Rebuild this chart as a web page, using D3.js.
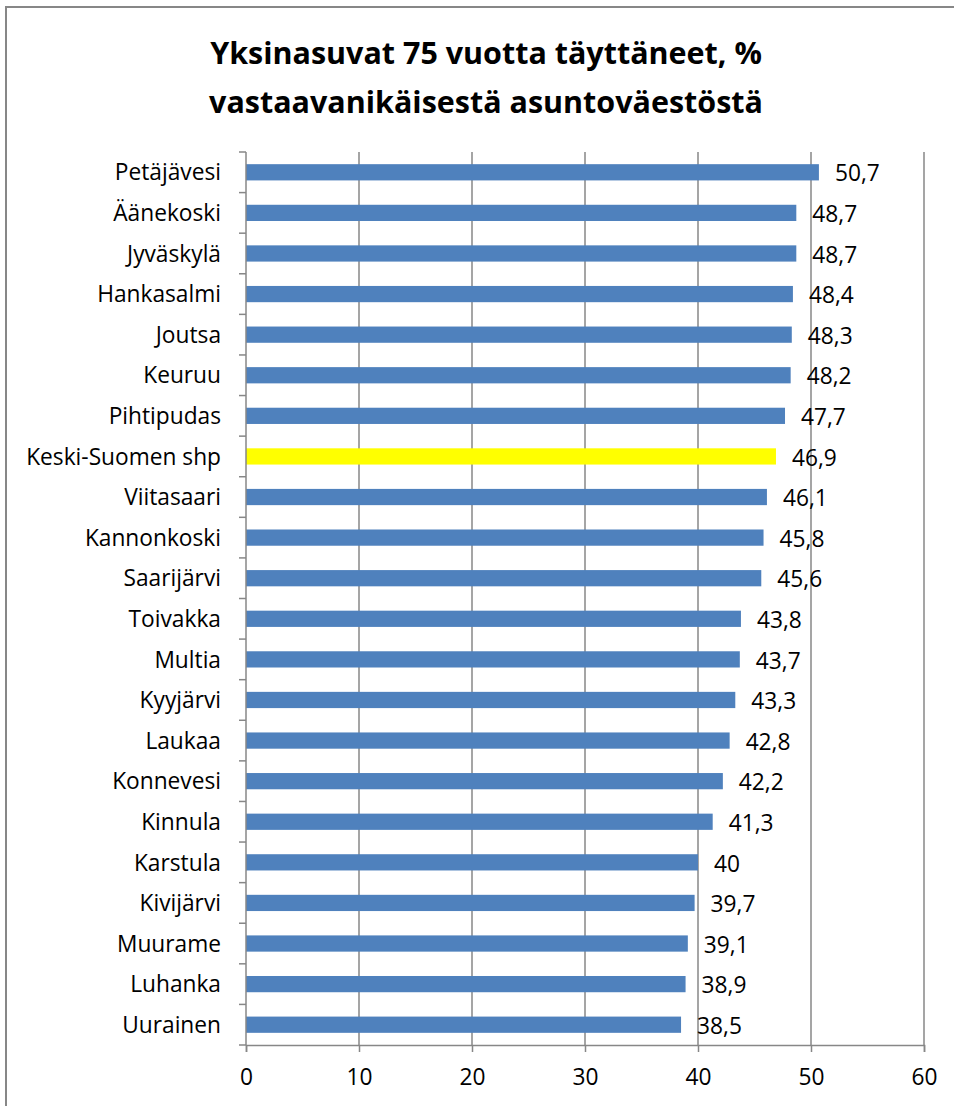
<!DOCTYPE html>
<html><head><meta charset="utf-8">
<script src="https://cdn.jsdelivr.net/npm/d3@7"></script>
<style>
html,body{margin:0;padding:0;background:#fff;}
svg{display:block;font-family:"Open Sans",Lato,sans-serif;}
</style></head>
<body>
<svg id="chart" width="954" height="1106"></svg>
<script>
const categories = ["Petäjävesi","Äänekoski","Jyväskylä","Hankasalmi","Joutsa","Keuruu","Pihtipudas","Keski-Suomen shp","Viitasaari","Kannonkoski","Saarijärvi","Toivakka","Multia","Kyyjärvi","Laukaa","Konnevesi","Kinnula","Karstula","Kivijärvi","Muurame","Luhanka","Uurainen"];
const values = [50.7,48.7,48.7,48.4,48.3,48.2,47.7,46.9,46.1,45.8,45.6,43.8,43.7,43.3,42.8,42.2,41.3,40,39.7,39.1,38.9,38.5];
const highlight = ["Keski-Suomen shp"];
const xTicks = [0,10,20,30,40,50,60];
const titleLines = ["Yksinasuvat 75 vuotta täyttäneet, %","vastaavanikäisestä asuntoväestöstä"];

const svg = d3.select("#chart");
const gridColor = "#878787";

// measure helper to pick font size matching the reference text widths
function fitSize(text, target, weight) {
  const t = svg.append("text").attr("font-size",20).attr("font-weight",weight||"normal").text(text);
  const w = t.node().getComputedTextLength();
  t.remove();
  return 20 * target / w;
}
const labelSize = fitSize("Keski-Suomen shp", 195);
const titleSize = fitSize(titleLines[0], 552, "bold");

// chart border
svg.append("rect").attr("x",6).attr("y",7).attr("width",960).attr("height",1110)
  .attr("fill","none").attr("stroke",gridColor).attr("stroke-width",2);

const x = d3.scaleLinear().domain([0,60]).range([246,924]);
const y = d3.scaleBand().domain(categories).range([152,1045]).paddingInner(0.6).paddingOuter(0.3);

// title
svg.append("text").attr("x",486).attr("y",64).attr("text-anchor","middle")
  .attr("font-weight","bold").attr("font-size",titleSize).attr("fill","#000")
  .selectAll("tspan").data(titleLines).join("tspan")
  .attr("x",486).attr("dy",(d,i)=>i===0?0:49).text(d=>d);

// gridlines
svg.append("g").selectAll("line").data(xTicks.filter(d=>d>0)).join("line")
  .attr("x1",d=>x(d)).attr("x2",d=>x(d)).attr("y1",152).attr("y2",1045)
  .attr("stroke",gridColor).attr("stroke-width",1.5);

// bars
svg.append("g").selectAll("rect").data(categories).join("rect")
  .attr("x",x(0)).attr("y",d=>y(d))
  .attr("width",(d,i)=>x(values[i])-x(0)).attr("height",y.bandwidth())
  .attr("fill",d=>highlight.includes(d)?"#FFFF00":"#4F81BD");

// value labels
svg.append("g").selectAll("text").data(categories).join("text")
  .attr("x",(d,i)=>x(values[i])+16).attr("y",d=>y(d)+y.bandwidth()/2+1)
  .attr("dy","0.36em").attr("font-size",labelSize).attr("fill","#000")
  .text((d,i)=>String(values[i]).replace(".",","));

// y axis
const yAxisG = svg.append("g");
yAxisG.append("line").attr("x1",x(0)).attr("x2",x(0)).attr("y1",152).attr("y2",1045)
  .attr("stroke",gridColor).attr("stroke-width",1.5);
const bounds = categories.map(d=>y(d)-y.step()*y.paddingInner()/2);
bounds.push(bounds[bounds.length-1]+y.step());
yAxisG.selectAll("line.tick").data(bounds).join("line").attr("class","tick")
  .attr("x1",x(0)-7).attr("x2",x(0)).attr("y1",d=>d).attr("y2",d=>d)
  .attr("stroke",gridColor).attr("stroke-width",1.5);
yAxisG.selectAll("text").data(categories).join("text")
  .attr("x",221).attr("y",d=>y(d)+y.bandwidth()/2).attr("dy","0.36em")
  .attr("text-anchor","end").attr("font-size",labelSize).attr("fill","#000").text(d=>d);

// x axis
const xAxis = d3.axisBottom(x).tickValues(xTicks).tickSize(7).tickPadding(17).tickFormat(d3.format("d"));
const xg = svg.append("g").attr("transform","translate(0,1045)").call(xAxis);
xg.select(".domain").attr("stroke",gridColor).attr("stroke-width",1.5);
xg.selectAll(".tick line").attr("stroke",gridColor).attr("stroke-width",1.5);
xg.selectAll(".tick text").attr("font-size",labelSize).attr("fill","#000").attr("font-family","'Open Sans',Lato,sans-serif");
</script>
</body></html>
